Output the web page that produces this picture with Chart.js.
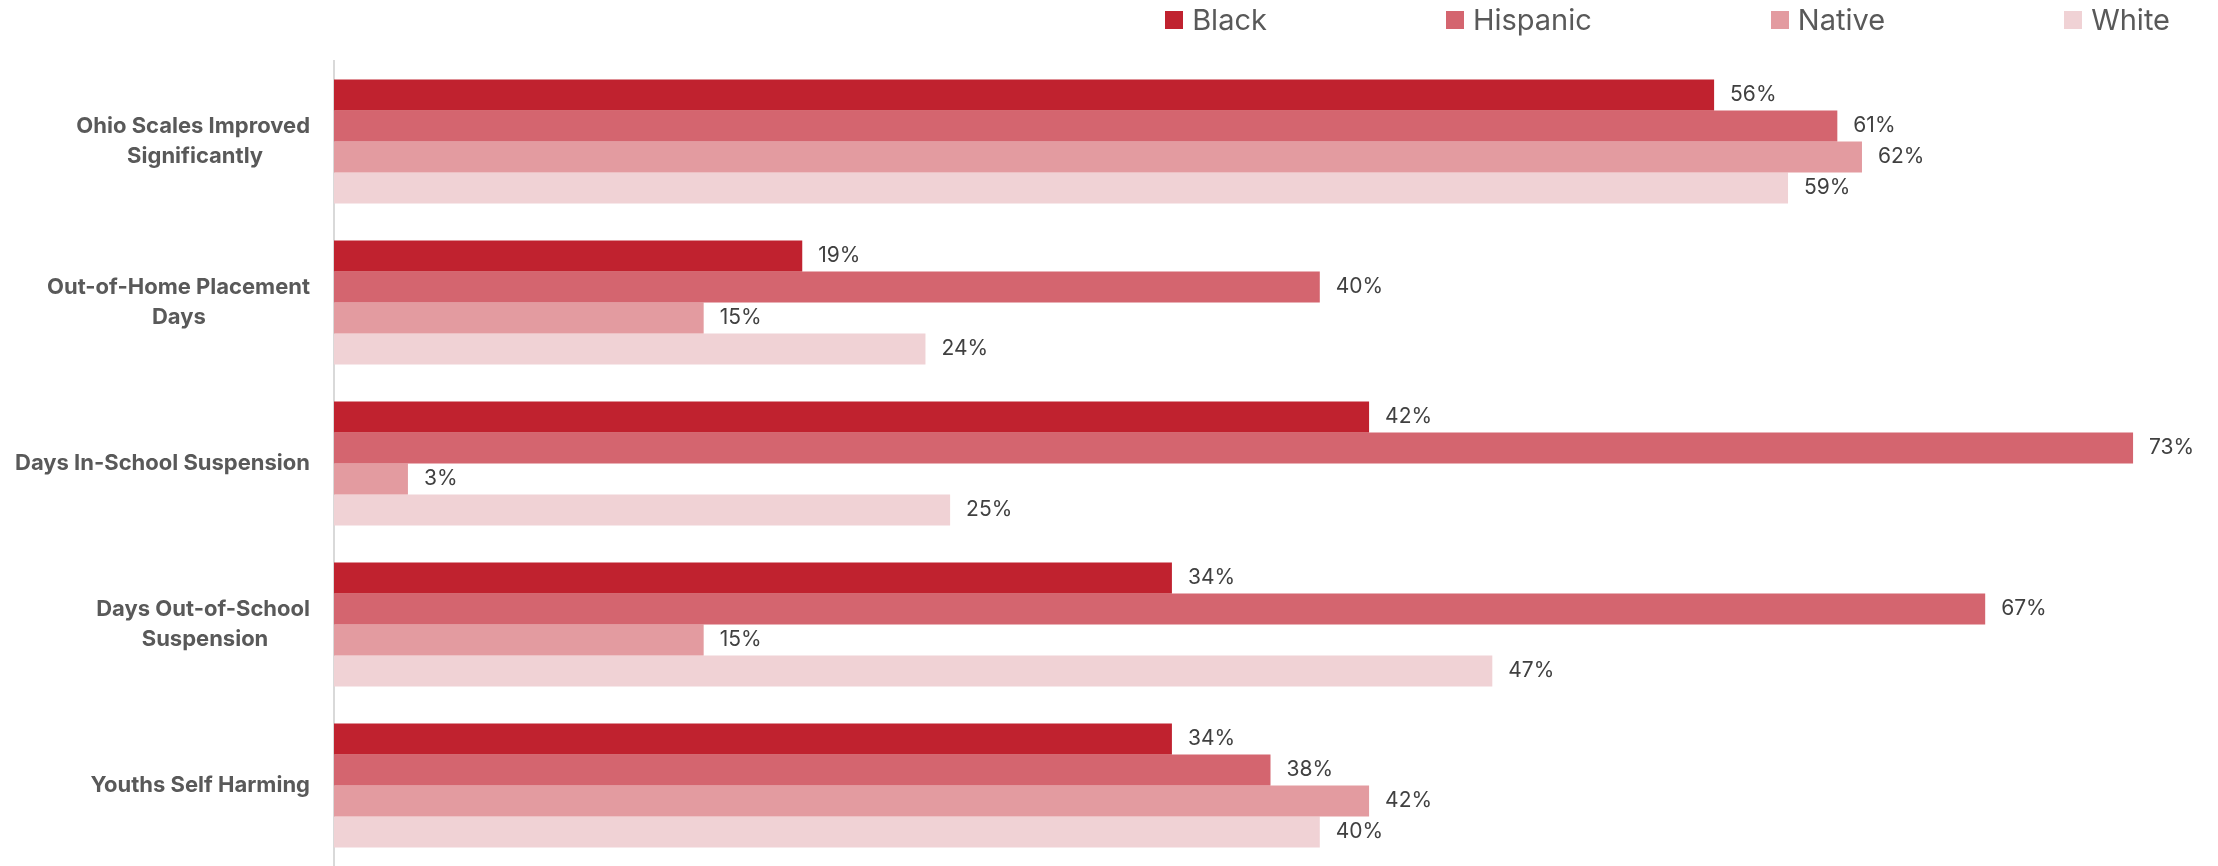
<!DOCTYPE html>
<html>
<head>
<meta charset="utf-8">
<script src="https://cdn.jsdelivr.net/npm/chart.js@4.4.1/dist/chart.umd.min.js"></script>
<style>
  html, body { margin: 0; padding: 0; background: #ffffff; }
  #wrap { position: relative; width: 2218px; height: 866px; }
  #legend { position: absolute; top: 5px; right: 48px; display: flex; gap: 179px; font-family: Inter, "Liberation Sans", sans-serif; font-size: 29px; line-height: 29px; color: #595959; }
  .item { display: flex; align-items: center; white-space: nowrap; }
  .box { width: 18px; height: 18px; margin-right: 9px; display: inline-block; }
</style>
</head>
<body>
<div id="wrap">
  <canvas id="c" width="2218" height="866"></canvas>
  <div id="legend"></div>
</div>
<script>
const categories = [
  ["Ohio Scales Improved", "Significantly"],
  ["Out-of-Home Placement", "Days"],
  ["Days In-School Suspension"],
  ["Days Out-of-School", "Suspension"],
  ["Youths Self Harming"]
];
const seriesNames = ["Black", "Hispanic", "Native", "White"];
const blackValues    = [56, 19, 42, 34, 34];
const hispanicValues = [61, 40, 73, 67, 38];
const nativeValues   = [62, 15, 3, 15, 42];
const whiteValues    = [59, 24, 25, 47, 40];
const seriesColors = ["#C0222F", "#D4656F", "#E39BA0", "#F0D2D5"];

const tickFont = { family: "Inter, 'Liberation Sans', sans-serif", size: 22, weight: "700", lineHeight: 1.36 };

// center shorter lines of multi-line labels (pad with trailing spaces)
const mctx = document.createElement('canvas').getContext('2d');
mctx.font = "700 22px Inter, 'Liberation Sans', sans-serif";
function centeredLines(lines) {
  if (lines.length < 2) return lines[0];
  const widths = lines.map(l => mctx.measureText(l).width);
  const maxW = Math.max(...widths);
  const sp = mctx.measureText(' ').width;
  return lines.map((l, i) => l + ' '.repeat(Math.round(((maxW - widths[i]) / 2) / sp)));
}

const valueLabels = {
  id: 'valueLabels',
  afterDatasetsDraw(chart) {
    const ctx = chart.ctx;
    ctx.save();
    ctx.font = "400 21px Inter, 'Liberation Sans', sans-serif";
    ctx.fillStyle = "#404040";
    ctx.textAlign = "left";
    ctx.textBaseline = "middle";
    chart.data.datasets.forEach((ds, di) => {
      const meta = chart.getDatasetMeta(di);
      meta.data.forEach((el, i) => {
        ctx.fillText(Math.round(ds.data[i]) + "%", el.x + 16, el.y);
      });
    });
    ctx.restore();
  }
};

const allValues = [blackValues, hispanicValues, nativeValues, whiteValues];
const chart = new Chart(document.getElementById('c'), {
  type: 'bar',
  data: {
    labels: categories.map(centeredLines),
    datasets: seriesNames.map((name, i) => ({
      label: name,
      data: allValues[i],
      backgroundColor: seriesColors[i],
      borderWidth: 0,
      categoryPercentage: 0.771,
      barPercentage: 1.0
    }))
  },
  options: {
    indexAxis: 'y',
    responsive: false,
    animation: false,
    devicePixelRatio: 1,
    layout: { padding: { top: 61, right: 11, bottom: -3, left: 0 } },
    plugins: {
      legend: { display: false },
      tooltip: { enabled: false }
    },
    scales: {
      x: { display: false, min: 0, max: 76 },
      y: {
        grid: { display: true, drawOnChartArea: false, drawTicks: true, tickLength: 24, color: 'rgba(0,0,0,0)' },
        border: { display: true, color: '#D9D9D9', width: 2 },
        ticks: { font: tickFont, color: '#595959', padding: 0, crossAlign: 'near' },
        afterFit(scale) {
          scale.width = 334;
          scale.paddingTop = 0;
          scale.paddingBottom = 0;
        }
      }
    }
  },
  plugins: [valueLabels]
});

// HTML legend generated from the chart's datasets
const legendEl = document.getElementById('legend');
chart.data.datasets.forEach(ds => {
  const item = document.createElement('div');
  item.className = 'item';
  const box = document.createElement('span');
  box.className = 'box';
  box.style.background = ds.backgroundColor;
  item.appendChild(box);
  item.appendChild(document.createTextNode(ds.label));
  legendEl.appendChild(item);
});
</script>
</body>
</html>
